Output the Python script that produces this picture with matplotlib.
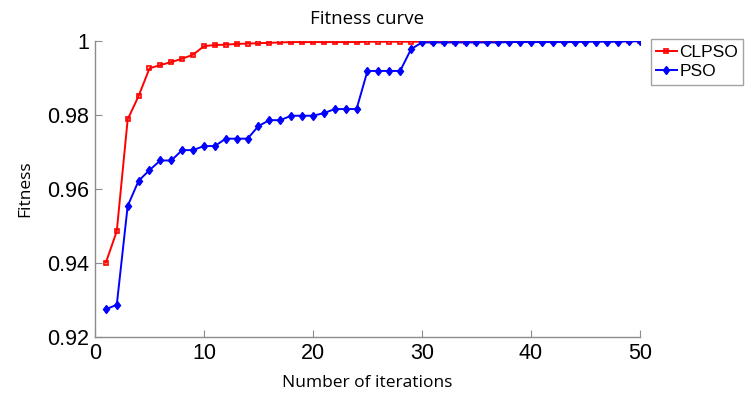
import matplotlib.pyplot as plt
import numpy as np
from matplotlib.ticker import FuncFormatter

# 迭代次数
iterations = list(range(1, 51))

# CLPSO 各代最优适应度
clpso = [0.9401, 0.9486, 0.9788, 0.9851, 0.9926, 0.9935, 0.9943, 0.9952, 0.9963, 0.9986,
         0.9989, 0.9990, 0.9992, 0.9993, 0.9994, 0.9995, 0.9996, 0.9997, 0.9997, 0.9997,
         0.9997, 0.9997, 0.9997, 0.9997, 0.9998, 0.9998, 0.9998, 0.9998, 0.9998, 0.9998,
         0.9998, 0.9998, 0.9998, 0.9998, 0.9998, 0.9999, 0.9999, 0.9999, 0.9999, 0.9999,
         0.9999, 0.9999, 0.9999, 0.9999, 0.9999, 1.0000, 1.0000, 1.0000, 1.0000, 1.0000]

# PSO 各代最优适应度
pso = [0.9275, 0.9287, 0.9554, 0.9622, 0.9651, 0.9677, 0.9677, 0.9705, 0.9705, 0.9716,
       0.9716, 0.9736, 0.9736, 0.9736, 0.9770, 0.9786, 0.9786, 0.9798, 0.9798, 0.9798,
       0.9805, 0.9816, 0.9816, 0.9816, 0.9919, 0.9919, 0.9919, 0.9919, 0.9978, 0.9996,
       0.9996, 0.9996, 0.9996, 0.9996, 0.9996, 0.9996, 0.9996, 0.9997, 0.9997, 0.9997,
       0.9997, 0.9997, 0.9997, 0.9997, 0.9998, 0.9998, 0.9998, 0.9998, 0.9999, 0.9999]

label_font = 'Open Sans'
tick_font = 'Liberation Sans'

fig = plt.figure(figsize=(7.52, 3.94), dpi=100)
ax = fig.add_axes([0.1263, 0.1447, 0.7247, 0.7513])

ax.plot(iterations, clpso, '-s', color='red', linewidth=1.4,
        markersize=3.5, markerfacecolor='none', markeredgewidth=1.2, label='CLPSO')
ax.plot(iterations, pso, '-d', color='blue', linewidth=1.4,
        markersize=4.5, markerfacecolor='blue', markeredgewidth=1.0, label='PSO')

ax.set_xlim(0, 50)
ax.set_ylim(0.92, 1.0)
ax.set_xticks(np.arange(0, 51, 10))
ax.set_yticks([0.92, 0.94, 0.96, 0.98, 1.0])
ax.yaxis.set_major_formatter(FuncFormatter(lambda v, p: f'{v:.2f}'.rstrip('0').rstrip('.')))

# 只保留左、下边框，刻度朝内
for side in ['top', 'right']:
    ax.spines[side].set_visible(False)
for side in ['left', 'bottom']:
    ax.spines[side].set_color('#8c8c8c')
    ax.spines[side].set_linewidth(1.0)
ax.tick_params(direction='in', length=5, color='#8c8c8c', labelsize=15.5, pad=4)
for lbl in ax.get_xticklabels() + ax.get_yticklabels():
    lbl.set_fontfamily(tick_font)

ax.set_title('Fitness curve', fontsize=13.5, family=label_font, pad=12)
ax.set_xlabel('Number of iterations', fontsize=12.5, family=label_font, labelpad=8)
ax.set_ylabel('Fitness', fontsize=12.5, family=label_font, labelpad=10)

leg = ax.legend(loc='upper left', bbox_to_anchor=(1.02, 1.005), fancybox=False,
                prop={'family': tick_font, 'size': 12.5}, handlelength=1.2,
                handletextpad=0.15, borderpad=0.3, labelspacing=0.25, borderaxespad=0)
leg.get_frame().set_edgecolor('#8c8c8c')
leg.get_frame().set_linewidth(1.0)

fig.savefig('out.png', dpi=100)
